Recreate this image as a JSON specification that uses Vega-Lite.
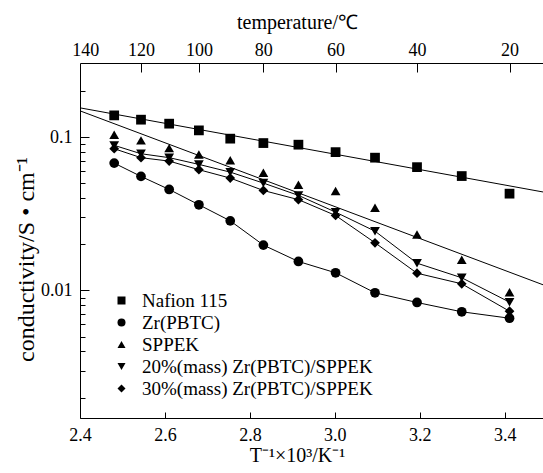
{
  "$schema": "https://vega.github.io/schema/vega-lite/v6.json",
  "width": 463,
  "height": 355,
  "autosize": {"type": "none"},
  "padding": {"left": 80, "top": 63, "right": 0, "bottom": 55},
  "config": {
    "view": {"stroke": null},
    "font": "Liberation Serif",
    "axis": {
      "labelFont": "Liberation Serif",
      "titleFont": "Liberation Serif",
      "labelColor": "black",
      "titleColor": "black",
      "domainColor": "black",
      "domainWidth": 1,
      "tickColor": "black",
      "tickWidth": 1,
      "grid": false,
      "labelFontSize": 18,
      "titleFontSize": 20,
      "titleFontWeight": "normal",
      "labelFlush": false,
      "labelOverlap": false,
      "labelBound": false
    },
    "legend": {
      "labelFont": "Liberation Serif",
      "labelFontSize": 19,
      "labelFontWeight": "normal",
      "labelColor": "black",
      "labelLimit": 400,
      "symbolSize": 64,
      "symbolFillColor": "black",
      "symbolStrokeColor": "black",
      "symbolStrokeWidth": 0,
      "padding": 0,
      "rowPadding": 2,
      "labelOffset": 11
    }
  },
  "datasets": {
    "pts": [
      {"series": "Nafion 115", "x": 2.4805, "y": 0.1392},
      {"series": "Nafion 115", "x": 2.5436, "y": 0.1305},
      {"series": "Nafion 115", "x": 2.6099, "y": 0.1229},
      {"series": "Nafion 115", "x": 2.6799, "y": 0.1111},
      {"series": "Nafion 115", "x": 2.7537, "y": 0.0981},
      {"series": "Nafion 115", "x": 2.8317, "y": 0.0918},
      {"series": "Nafion 115", "x": 2.9142, "y": 0.0896},
      {"series": "Nafion 115", "x": 3.0017, "y": 0.0801},
      {"series": "Nafion 115", "x": 3.0945, "y": 0.0737},
      {"series": "Nafion 115", "x": 3.1934, "y": 0.0639},
      {"series": "Nafion 115", "x": 3.2987, "y": 0.0559},
      {"series": "Nafion 115", "x": 3.4112, "y": 0.0429},
      {"series": "Zr(PBTC)", "x": 2.4805, "y": 0.0679},
      {"series": "Zr(PBTC)", "x": 2.5436, "y": 0.0556},
      {"series": "Zr(PBTC)", "x": 2.6099, "y": 0.0457},
      {"series": "Zr(PBTC)", "x": 2.6799, "y": 0.0363},
      {"series": "Zr(PBTC)", "x": 2.7537, "y": 0.0285},
      {"series": "Zr(PBTC)", "x": 2.8317, "y": 0.0198},
      {"series": "Zr(PBTC)", "x": 2.9142, "y": 0.01547},
      {"series": "Zr(PBTC)", "x": 3.0017, "y": 0.01305},
      {"series": "Zr(PBTC)", "x": 3.0945, "y": 0.00966},
      {"series": "Zr(PBTC)", "x": 3.1934, "y": 0.00835},
      {"series": "Zr(PBTC)", "x": 3.2987, "y": 0.00726},
      {"series": "Zr(PBTC)", "x": 3.4112, "y": 0.00659},
      {"series": "SPPEK", "x": 2.4805, "y": 0.1041},
      {"series": "SPPEK", "x": 2.5436, "y": 0.0956},
      {"series": "SPPEK", "x": 2.6099, "y": 0.0851},
      {"series": "SPPEK", "x": 2.6799, "y": 0.0774},
      {"series": "SPPEK", "x": 2.7537, "y": 0.0708},
      {"series": "SPPEK", "x": 2.8317, "y": 0.0588},
      {"series": "SPPEK", "x": 2.9142, "y": 0.0491},
      {"series": "SPPEK", "x": 3.0017, "y": 0.0446},
      {"series": "SPPEK", "x": 3.0945, "y": 0.0347},
      {"series": "SPPEK", "x": 3.1934, "y": 0.0232},
      {"series": "SPPEK", "x": 3.2987, "y": 0.01588},
      {"series": "SPPEK", "x": 3.4112, "y": 0.00975},
      {"series": "20%(mass) Zr(PBTC)/SPPEK", "x": 2.4805, "y": 0.0887},
      {"series": "20%(mass) Zr(PBTC)/SPPEK", "x": 2.5436, "y": 0.0782},
      {"series": "20%(mass) Zr(PBTC)/SPPEK", "x": 2.6099, "y": 0.0737},
      {"series": "20%(mass) Zr(PBTC)/SPPEK", "x": 2.6799, "y": 0.0666},
      {"series": "20%(mass) Zr(PBTC)/SPPEK", "x": 2.7537, "y": 0.0593},
      {"series": "20%(mass) Zr(PBTC)/SPPEK", "x": 2.8317, "y": 0.0503},
      {"series": "20%(mass) Zr(PBTC)/SPPEK", "x": 2.9142, "y": 0.0418},
      {"series": "20%(mass) Zr(PBTC)/SPPEK", "x": 3.0017, "y": 0.0325},
      {"series": "20%(mass) Zr(PBTC)/SPPEK", "x": 3.0945, "y": 0.0244},
      {"series": "20%(mass) Zr(PBTC)/SPPEK", "x": 3.1934, "y": 0.01508},
      {"series": "20%(mass) Zr(PBTC)/SPPEK", "x": 3.2987, "y": 0.01211},
      {"series": "20%(mass) Zr(PBTC)/SPPEK", "x": 3.4112, "y": 0.00839},
      {"series": "30%(mass) Zr(PBTC)/SPPEK", "x": 2.4805, "y": 0.0843},
      {"series": "30%(mass) Zr(PBTC)/SPPEK", "x": 2.5436, "y": 0.0737},
      {"series": "30%(mass) Zr(PBTC)/SPPEK", "x": 2.6099, "y": 0.0700},
      {"series": "30%(mass) Zr(PBTC)/SPPEK", "x": 2.6799, "y": 0.0615},
      {"series": "30%(mass) Zr(PBTC)/SPPEK", "x": 2.7537, "y": 0.0542},
      {"series": "30%(mass) Zr(PBTC)/SPPEK", "x": 2.8317, "y": 0.0450},
      {"series": "30%(mass) Zr(PBTC)/SPPEK", "x": 2.9142, "y": 0.0392},
      {"series": "30%(mass) Zr(PBTC)/SPPEK", "x": 3.0017, "y": 0.0309},
      {"series": "30%(mass) Zr(PBTC)/SPPEK", "x": 3.0945, "y": 0.0205},
      {"series": "30%(mass) Zr(PBTC)/SPPEK", "x": 3.1934, "y": 0.01297},
      {"series": "30%(mass) Zr(PBTC)/SPPEK", "x": 3.2987, "y": 0.01106},
      {"series": "30%(mass) Zr(PBTC)/SPPEK", "x": 3.4112, "y": 0.00732}
    ],
    "fit": [
      {"series": "Nafion 115", "x": 2.4, "y": 0.1559},
      {"series": "Nafion 115", "x": 3.49, "y": 0.0440},
      {"series": "SPPEK", "x": 2.4, "y": 0.1490},
      {"series": "SPPEK", "x": 3.49, "y": 0.0109}
    ]
  },
  "layer": [
    {
      "data": {"name": "pts"},
      "mark": {"type": "point", "filled": true, "color": "black", "opacity": 1, "size": 95},
      "encoding": {
        "x": {
          "field": "x", "type": "quantitative",
          "scale": {"domain": [2.4, 3.49], "nice": false, "zero": false},
          "axis": {
            "orient": "bottom",
            "values": [2.4, 2.6, 2.8, 3.0, 3.2, 3.4],
            "format": ".1f",
            "tickSize": -6,
            "labelPadding": 14,
            "title": "T⁻¹×10³/K⁻¹",
            "titleX": 217,
            "titlePadding": 1
          }
        },
        "y": {
          "field": "y", "type": "quantitative",
          "scale": {"type": "log", "domain": [0.00147, 0.306], "nice": false},
          "axis": {
            "orient": "left",
            "values": [0.002, 0.003, 0.004, 0.005, 0.006, 0.007, 0.008, 0.009, 0.01, 0.02, 0.03, 0.04, 0.05, 0.06, 0.07, 0.08, 0.09, 0.1, 0.2],
            "labelExpr": "datum.value == 0.1 ? '0.1' : datum.value == 0.01 ? '0.01' : ''",
            "tickSize": {"condition": {"test": "datum.value == 0.1 || datum.value == 0.01", "value": -9}, "value": -5},
            "labelPadding": 17,
            "title": "conductivity/S • cm⁻¹",
            "titleFontSize": 24,
            "titleX": -42,
            "titleY": 196
          }
        },
        "shape": {
          "field": "series", "type": "nominal",
          "scale": {
            "domain": ["Nafion 115", "Zr(PBTC)", "SPPEK", "20%(mass) Zr(PBTC)/SPPEK", "30%(mass) Zr(PBTC)/SPPEK"],
            "range": ["square", "circle", "triangle-up", "triangle-down", "diamond"]
          },
          "legend": {"title": null, "orient": "none", "legendX": 32, "legendY": 228}
        }
      }
    },
    {
      "data": {"name": "fit"},
      "mark": {"type": "line", "color": "black", "strokeWidth": 1, "clip": true},
      "encoding": {
        "x": {
          "field": "x", "type": "quantitative",
          "scale": {"domain": [2.4, 3.49], "nice": false, "zero": false},
          "axis": {
            "orient": "top",
            "values": [2.4125, 2.5436, 2.6799, 2.8317, 3.0017, 3.1934, 3.4112],
            "labelExpr": "datum.value < 2.42 ? '140' : datum.value < 2.6 ? '120' : datum.value < 2.7 ? '100' : datum.value < 2.9 ? '80' : datum.value < 3.1 ? '60' : datum.value < 3.3 ? '40' : '20'",
            "tickSize": -9,
            "tickOpacity": {"condition": {"test": "datum.value < 2.42", "value": 0}, "value": 1},
            "labelPadding": 13,
            "title": "temperature/℃",
            "titleX": 217,
            "titlePadding": 9
          }
        },
        "y": {
          "field": "y", "type": "quantitative",
          "scale": {"type": "log", "domain": [0.00147, 0.306], "nice": false}
        },
        "detail": {"field": "series"}
      }
    },
    {
      "data": {"name": "pts"},
      "transform": [
        {"filter": {"field": "series", "oneOf": ["Zr(PBTC)", "20%(mass) Zr(PBTC)/SPPEK", "30%(mass) Zr(PBTC)/SPPEK"]}}
      ],
      "mark": {"type": "line", "color": "black", "strokeWidth": 1, "clip": true},
      "encoding": {
        "x": {
          "field": "x", "type": "quantitative",
          "scale": {"domain": [2.4, 3.49], "nice": false, "zero": false},
          "axis": null
        },
        "y": {
          "field": "y", "type": "quantitative",
          "scale": {"type": "log", "domain": [0.00147, 0.306], "nice": false}
        },
        "detail": {"field": "series"}
      }
    }
  ],
  "resolve": {"axis": {"x": "independent"}}
}
